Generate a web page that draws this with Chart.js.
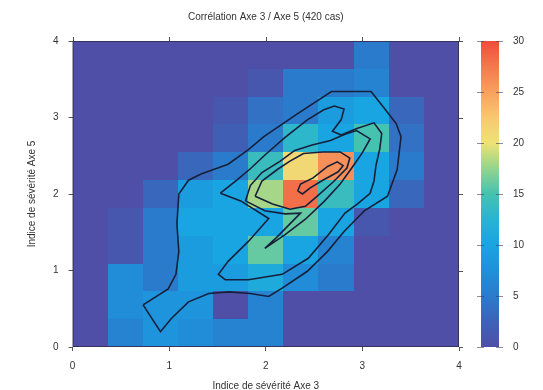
<!DOCTYPE html>
<html>
<head>
<meta charset="utf-8">
<script src="https://cdn.jsdelivr.net/npm/chart.js@4.4.1/dist/chart.umd.min.js"></script>
<style>
  html, body { margin: 0; padding: 0; background: #ffffff; }
  canvas { display: block; }
</style>
</head>
<body>
<canvas id="chart" width="543" height="390"></canvas>
<script>
// Severity indices run from 0 to 4, split into 11 bins on each axis
const axisMin = 0;
const axisMax = 4;
const binCount = 11;
const axisTicks = [0, 1, 2, 3, 4];

// Number of cases per cell; first row is the top of the chart (Axe 5 high),
// columns go left to right along Axe 3
const counts = [
  [0, 0, 0, 0, 0, 0, 0, 0, 5, 0, 0],
  [0, 0, 0, 0, 0, 1, 5, 5, 6, 0, 0],
  [0, 0, 0, 0, 1, 4, 5, 9, 10, 3, 0],
  [0, 0, 0, 0, 2, 5, 13, 10, 15, 4, 0],
  [0, 0, 0, 3, 5, 14, 21, 26, 10, 5, 0],
  [0, 0, 3, 9, 10, 18, 28, 14, 10, 3, 0],
  [0, 1, 5, 10, 10, 10, 16, 10, 1, 0, 0],
  [0, 1, 5, 9, 10, 16, 10, 6, 0, 0, 0],
  [0, 7, 5, 9, 9, 11, 7, 5, 0, 0, 0],
  [0, 7, 8, 8, 0, 6, 0, 0, 0, 0, 0],
  [0, 6, 8, 7, 6, 6, 0, 0, 0, 0, 0]
];

// Colour scale for the counts
const colorMin = 0;
const colorMax = 30;
const colorTicks = [0, 5, 10, 15, 20, 25, 30];
const colorStops = [0, 2.5, 5, 7.5, 10, 12.5, 15, 17.5, 20, 22.5, 25, 27.5, 30];
const colorHex = ['#4f4fa7', '#3d62b8', '#2b7bcc', '#1f90da', '#19a4e2', '#27b4d2',
                  '#46c2b0', '#94d48e', '#eee276', '#f8c870', '#f8a05e', '#f4784e', '#f04c3c'];

// Iso-density lines (levels 5, 10, 15, 20, 25), as [Axe 3, Axe 5] points
const contourLevels = [5, 10, 15, 20, 25];
const contour5 = [
  [0.73, 0.55], [0.91, 0.20], [1.02, 0.37], [1.20, 0.59], [1.41, 0.70], [1.62, 0.72],
  [1.84, 0.70], [2.03, 0.66], [2.17, 0.77], [2.43, 0.99], [2.64, 1.25], [2.81, 1.51],
  [3.02, 1.78], [3.26, 1.97], [3.36, 2.32], [3.40, 2.75], [3.35, 2.92], [3.19, 3.18],
  [3.09, 3.34], [2.68, 3.34], [2.33, 3.05], [1.98, 2.75], [1.82, 2.58], [1.61, 2.39],
  [1.33, 2.26], [1.20, 2.18], [1.10, 2.00], [1.08, 1.61], [1.10, 1.25], [1.07, 0.95],
  [0.99, 0.76], [0.73, 0.55]
];
const contour10 = [
  [1.53, 2.01], [1.70, 2.18], [1.84, 2.33], [2.00, 2.52], [2.20, 2.74], [2.43, 2.97],
  [2.60, 3.10], [2.71, 3.15], [2.81, 3.11], [2.78, 2.97], [2.69, 2.82], [2.78, 2.77],
  [2.95, 2.86], [3.12, 2.93], [3.20, 2.79], [3.18, 2.59], [3.14, 2.37], [3.12, 2.17],
  [3.08, 2.01], [2.95, 1.87], [2.82, 1.75], [2.65, 1.47], [2.44, 1.16], [2.17, 0.95],
  [1.82, 0.88], [1.58, 0.88], [1.51, 0.95], [1.61, 1.12], [1.82, 1.38], [2.03, 1.68],
  [1.74, 1.91], [1.53, 2.01]
];
const contour15 = [
  [1.79, 1.91], [1.84, 2.11], [1.96, 2.28], [2.15, 2.43], [2.30, 2.57], [2.48, 2.64],
  [2.67, 2.70], [2.82, 2.78], [2.94, 2.83], [3.08, 2.72], [3.00, 2.54], [2.89, 2.34],
  [2.77, 2.13], [2.61, 1.91], [2.41, 1.67], [2.20, 1.47], [1.99, 1.29], [2.11, 1.43],
  [2.25, 1.61], [2.36, 1.75], [2.20, 1.74], [1.99, 1.78], [1.79, 1.91]
];
const contour20 = [
  [1.89, 1.97], [1.96, 2.17], [2.13, 2.33], [2.25, 2.43], [2.39, 2.53], [2.59, 2.55],
  [2.77, 2.55], [2.87, 2.47], [2.84, 2.34], [2.70, 2.16], [2.53, 1.97], [2.41, 1.84],
  [2.25, 1.80], [2.07, 1.87], [1.89, 1.97]
];
const contour25 = [
  [2.33, 2.04], [2.36, 2.13], [2.49, 2.21], [2.64, 2.36], [2.74, 2.42], [2.80, 2.37],
  [2.75, 2.29], [2.59, 2.18], [2.46, 2.08], [2.38, 2.00], [2.33, 2.04]
];
const contours = [contour5, contour10, contour15, contour20, contour25];

const FONT = { family: "'Liberation Sans', Arial, sans-serif", size: 10 };
const TEXT_COLOR = '#333333';
const LINE_COLOR = '#17203a';

function hexToRgb(h) {
  const n = parseInt(h.slice(1), 16);
  return [(n >> 16) & 255, (n >> 8) & 255, n & 255];
}
const colorRgb = colorHex.map(hexToRgb);

function colorFor(v) {
  const t = Math.max(colorMin, Math.min(colorMax, v));
  for (let i = 1; i < colorStops.length; i++) {
    if (t <= colorStops[i]) {
      const f = (t - colorStops[i - 1]) / (colorStops[i] - colorStops[i - 1]);
      const a = colorRgb[i - 1], b = colorRgb[i];
      const c = a.map((ch, k) => Math.round(ch + (b[k] - ch) * f));
      return `rgb(${c[0]},${c[1]},${c[2]})`;
    }
  }
  return colorHex[colorHex.length - 1];
}

// Paints the binned counts underneath the iso lines
const heatmapPlugin = {
  id: 'heatmap',
  beforeDatasetsDraw(chart) {
    const { ctx, chartArea, scales: { x, y } } = chart;
    const step = (axisMax - axisMin) / binCount;
    ctx.save();
    ctx.beginPath();
    ctx.rect(chartArea.left, chartArea.top, chartArea.width, chartArea.height);
    ctx.clip();
    counts.forEach((row, r) => {
      const j = binCount - 1 - r;
      row.forEach((v, i) => {
        const x0 = Math.round(x.getPixelForValue(axisMin + i * step));
        const x1 = Math.round(x.getPixelForValue(axisMin + (i + 1) * step));
        const y0 = Math.round(y.getPixelForValue(axisMin + (j + 1) * step));
        const y1 = Math.round(y.getPixelForValue(axisMin + j * step));
        ctx.fillStyle = colorFor(v);
        ctx.fillRect(x0, y0, x1 - x0, y1 - y0);
      });
    });
    ctx.restore();
  },
  afterDraw(chart) {
    const { ctx, chartArea, scales: { x, y, cb } } = chart;
    const { left, right, top, bottom } = chartArea;
    ctx.save();
    // plot frame
    ctx.strokeStyle = '#34345a';
    ctx.lineWidth = 1;
    ctx.strokeRect(left + 0.5, top + 0.5, right - left - 1, bottom - top - 1);
    // mirrored tick marks on top and right edges
    ctx.strokeStyle = '#555555';
    ctx.beginPath();
    axisTicks.forEach(t => {
      const px = Math.round(x.getPixelForValue(t)) + 0.5;
      ctx.moveTo(px, top); ctx.lineTo(px, top - 4);
      const py = Math.round(y.getPixelForValue(t)) + 0.5;
      ctx.moveTo(right, py); ctx.lineTo(right + 4, py);
    });
    ctx.stroke();

    // colour bar
    const barLeft = right + 22;
    const barWidth = 18;
    const yTop = cb.getPixelForValue(colorMax);
    const yBottom = cb.getPixelForValue(colorMin);
    const grad = ctx.createLinearGradient(0, yBottom, 0, yTop);
    colorStops.forEach((s, i) => grad.addColorStop((s - colorMin) / (colorMax - colorMin), colorHex[i]));
    ctx.fillStyle = grad;
    ctx.fillRect(barLeft, yTop, barWidth, yBottom - yTop);
    ctx.strokeStyle = 'rgba(60,60,90,0.6)';
    ctx.beginPath();
    colorTicks.forEach(t => {
      const py = Math.round(cb.getPixelForValue(t)) + 0.5;
      ctx.moveTo(barLeft - 4, py); ctx.lineTo(barLeft + 3, py);
      ctx.moveTo(barLeft + barWidth - 3, py); ctx.lineTo(barLeft + barWidth + 4, py);
    });
    ctx.stroke();
    ctx.restore();
  }
};

const datasets = contours.map((pts, k) => ({
  label: 'niveau ' + contourLevels[k],
  data: pts.map(([a, b]) => ({ x: a, y: b })),
  showLine: true,
  borderColor: LINE_COLOR,
  borderWidth: 1.6,
  pointRadius: 0,
  fill: false,
  tension: 0
}));

new Chart(document.getElementById('chart'), {
  type: 'scatter',
  data: { datasets },
  plugins: [heatmapPlugin],
  options: {
    responsive: false,
    devicePixelRatio: 1,
    animation: false,
    layout: { padding: { left: 26, right: 18, top: 0, bottom: -1 } },
    plugins: {
      legend: { display: false },
      tooltip: { enabled: false },
      title: {
        display: true,
        fullSize: false,
        text: 'Corrélation Axe 3 / Axe 5 (420 cas)',
        color: TEXT_COLOR,
        font: { ...FONT, weight: 'normal' },
        padding: { top: 11, bottom: 18 }
      }
    },
    scales: {
      x: {
        type: 'linear',
        min: axisMin,
        max: axisMax,
        afterBuildTicks: s => { s.ticks = axisTicks.map(v => ({ value: v })); },
        ticks: { color: TEXT_COLOR, font: { ...FONT, lineHeight: 1 }, padding: 10, maxRotation: 0 },
        grid: { drawOnChartArea: false, drawTicks: true, tickLength: 4, color: '#555555' },
        border: { display: false },
        title: { display: true, text: 'Indice de sévérité Axe 3', color: TEXT_COLOR, font: { ...FONT, lineHeight: 1 }, padding: { top: 0, bottom: 0 } }
      },
      y: {
        type: 'linear',
        min: axisMin,
        max: axisMax,
        afterBuildTicks: s => { s.ticks = axisTicks.map(v => ({ value: v })); },
        ticks: { color: TEXT_COLOR, font: FONT, padding: 10 },
        grid: { drawOnChartArea: false, drawTicks: true, tickLength: 4, color: '#555555' },
        border: { display: false },
        title: { display: true, text: 'Indice de sévérité Axe 5', color: TEXT_COLOR, font: FONT, padding: { top: 0, bottom: 5 } }
      },
      cb: {
        type: 'linear',
        axis: 'y',
        position: 'right',
        min: colorMin,
        max: colorMax,
        afterBuildTicks: s => { s.ticks = colorTicks.map(v => ({ value: v })); },
        afterFit: s => { s.width = 66; },
        ticks: { color: TEXT_COLOR, font: FONT, padding: 4 },
        grid: { display: false, drawTicks: true, tickLength: 50 },
        border: { display: false }
      }
    }
  }
});
</script>
</body>
</html>
